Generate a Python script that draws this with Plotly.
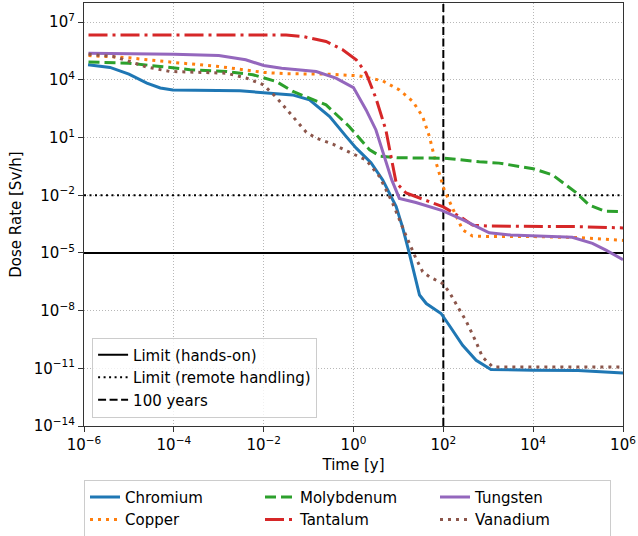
import plotly.graph_objects as go

# ---------------- data (time in years, dose rate in Sv/h) ----------------
chromium_t = [1.23e-6, 3.8e-6, 1e-5, 2.51e-5, 5.0e-5, 9.5e-5, 2.95e-3, 1e-2, 4.37e-2, 0.105, 0.295, 0.69,
              1.15, 2.45, 4.47, 8.9, 12.3, 17.4, 29.5, 41.7, 89, 135, 269, 537, 1150, 1e4, 1e5, 1e6]
chromium_d = [6.17e4, 4.47e4, 2.0e4, 6.8e3, 3.8e3, 2.95e3, 2.7e3, 2.2e3, 1.66e3, 912, 123, 11.2,
              2.82, 0.5, 6.3e-2, 2.57e-3, 2.29e-4, 1e-5, 6.5e-8, 2.34e-8, 7.1e-9, 1.74e-9, 1.58e-10,
              2.63e-11, 8.7e-12, 7.9e-12, 7.6e-12, 5.75e-12]

copper_t = [1.26e-6, 1e-5, 1e-4, 1e-3, 1e-2, 3.16e-2, 0.251, 1.35, 4.47, 10.5, 20.9, 34.7, 49, 63, 81,
            105, 174, 269, 447, 1e3, 1e4, 1e5, 1e6]
copper_d = [1.86e5, 1.41e5, 8.1e4, 5.0e4, 2.45e4, 2.09e4, 2.0e4, 1.62e4, 8.9e3, 3.0e3, 759, 123, 11.2,
            1.02, 0.141, 1.9e-2, 1.41e-3, 1.58e-4, 7.6e-5, 7.2e-5, 7.1e-5, 6.3e-5, 4.5e-5]

molybdenum_t = [1.26e-6, 1e-5, 5.0e-5, 2.29e-4, 1.48e-3, 5.75e-3, 1.9e-2, 4.47e-2, 0.245, 0.81, 2.29,
                3.98, 10, 100, 631, 1740, 1e4, 2.69e4, 8.9e4, 1.74e5, 3.98e5, 1e6]
molybdenum_d = [8.5e4, 7.4e4, 5.0e4, 3.4e4, 2.75e4, 1.86e4, 8.3e3, 2.5e3, 501, 37, 2.29,
                1.07, 0.89, 0.85, 0.56, 0.47, 0.24, 0.115, 1.41e-2, 3.16e-3, 1.48e-3, 1.41e-3]

tantalum_t = [1.26e-6, 3.16e-2, 7.4e-2, 0.245, 0.575, 1.15, 1.91, 3.16, 5.25, 6.3, 7.6, 8.9, 14.8,
              49, 100, 269, 447, 1e3, 1e4, 1e5, 1e6]
tantalum_d = [2.14e6, 2.14e6, 1.82e6, 1e6, 3.7e5, 1.12e5, 2.24e4, 1.12e3, 25, 3.16, 0.316, 4.5e-2,
              1.32e-2, 4.7e-3, 2.5e-3, 6.3e-4, 2.8e-4, 2.5e-4, 2.5e-4, 2.34e-4, 2.0e-4]

tungsten_t = [1.26e-6, 1e-4, 1e-3, 3.98e-3, 1e-2, 2.51e-2, 0.148, 0.407, 1.0, 1.91, 3.16, 4.9, 7.1,
              10.5, 24.5, 95, 269, 631, 1050, 3160, 1e4, 7.4e4, 2.09e5, 4.17e5, 1e6]
tungsten_d = [2.4e5, 2.19e5, 1.86e5, 1.12e5, 5.6e4, 4.07e4, 2.75e4, 1.23e4, 3.98e3, 275, 25, 1.02,
              6.3e-2, 6.9e-3, 4.2e-3, 1.58e-3, 5.4e-4, 2.0e-4, 1.12e-4, 8.5e-5, 7.9e-5, 6.5e-5,
              3.16e-5, 1.41e-5, 4.5e-6]

vanadium_t = [1.26e-6, 4.47e-6, 1.05e-5, 2.45e-5, 8.1e-5, 1.48e-3, 4.17e-3, 9.8e-3, 1.9e-2, 4.47e-2,
              8.9e-2, 0.148, 0.347, 0.98, 1.91, 3.8, 7.4, 14.8, 24.5, 34.7, 49, 95, 135, 209, 316,
              537, 741, 1260, 1e4, 1e6]
vanadium_d = [2.19e5, 1.66e5, 9.1e4, 4.7e4, 2.75e4, 2.24e4, 1.23e4, 5.6e3, 1.26e3, 123, 19, 9.3,
              4.57, 1.41, 0.69, 9.3e-2, 4.0e-3, 7.9e-5, 5.25e-6, 1.05e-6, 5.75e-7, 2.63e-7, 9.5e-8,
              1.58e-8, 3.16e-9, 2.34e-10, 3.9e-11, 1.17e-11, 1.17e-11, 1.17e-11]

hands_on_limit = 1e-5      # Sv/h
remote_limit = 1e-2        # Sv/h
cooling_years = 100        # y

x_range_exp = [-6, 6]
y_range_exp = [-14, 8]
x_tick_exp = [-6, -4, -2, 0, 2, 4, 6]
y_tick_exp = [-14, -11, -8, -5, -2, 1, 4, 7]

# ---------------- figure ----------------
FONT = "DejaVu Sans"
FS = 15


def tick_label(e):
    return "10<sup>" + str(e).replace("-", "\u2212") + "</sup>"


series = [
    ("Chromium", chromium_t, chromium_d, "#1f77b4", "solid", 1),
    ("Copper", copper_t, copper_d, "#ff7f0e", "3px,5px", 4),
    ("Molybdenum", molybdenum_t, molybdenum_d, "#2ca02c", "11px,5px", 2),
    ("Tantalum", tantalum_t, tantalum_d, "#d62728", "19px,5px,3px,5px", 5),
    ("Tungsten", tungsten_t, tungsten_d, "#9467bd", "solid", 3),
    ("Vanadium", vanadium_t, vanadium_d, "#8c564b", "3px,5px", 6),
]

fig = go.Figure()

x_lo, x_hi = 10.0 ** x_range_exp[0], 10.0 ** x_range_exp[1]
y_lo, y_hi = 10.0 ** y_range_exp[0], 10.0 ** y_range_exp[1]

fig.add_trace(go.Scatter(x=[x_lo, x_hi], y=[hands_on_limit, hands_on_limit], mode="lines",
                         line=dict(color="black", width=2), name="Limit (hands-on)",
                         legend="legend2"))
fig.add_trace(go.Scatter(x=[x_lo, x_hi], y=[remote_limit, remote_limit], mode="lines",
                         line=dict(color="black", width=2, dash="2px,3.5px"),
                         name="Limit (remote handling)", legend="legend2"))
fig.add_trace(go.Scatter(x=[cooling_years, cooling_years], y=[y_lo, y_hi], mode="lines",
                         line=dict(color="black", width=2, dash="8px,3.5px"), name="100 years",
                         legend="legend2"))

for name, t, d, color, dash, rank in series:
    fig.add_trace(go.Scatter(x=t, y=d, mode="lines", name=name, legendrank=rank,
                             line=dict(color=color, width=3, dash=dash), legend="legend"))

axis_common = dict(
    type="log", showline=True, linecolor="#333333", linewidth=1.2, mirror=True,
    ticks="outside", ticklen=5, tickwidth=1.2, tickcolor="#333333",
    showgrid=True, gridcolor="#b8b8b8", gridwidth=1, griddash="1px,2px",
    zeroline=False, tickfont=dict(family=FONT, size=FS, color="black"),
)

fig.update_xaxes(**axis_common, range=x_range_exp,
                 tickvals=[10.0 ** e for e in x_tick_exp],
                 ticktext=[tick_label(e) for e in x_tick_exp],
                 title=dict(text="Time [y]", font=dict(family=FONT, size=FS, color="black"),
                            standoff=6))
fig.update_yaxes(**axis_common, range=y_range_exp,
                 tickvals=[10.0 ** e for e in y_tick_exp],
                 ticktext=[tick_label(e) for e in y_tick_exp],
                 title=dict(text="Dose Rate [Sv/h]", font=dict(family=FONT, size=FS, color="black"),
                            standoff=8))

fig.update_layout(
    width=638, height=536,
    margin=dict(l=84, r=15, t=3, b=110, autoexpand=False),
    paper_bgcolor="white", plot_bgcolor="white",
    font=dict(family=FONT, size=FS, color="black"),
    legend=dict(orientation="h", x=0.0, y=-0.127, xanchor="left", yanchor="top",
                entrywidth=130, entrywidthmode="pixels",
                bgcolor="white", bordercolor="#cccccc", borderwidth=1,
                font=dict(family=FONT, size=FS), traceorder="normal"),
    legend2=dict(x=0.015, y=0.02, xanchor="left", yanchor="bottom",
                 bgcolor="rgba(255,255,255,0.8)", bordercolor="#cccccc", borderwidth=1,
                 font=dict(family=FONT, size=FS)),
    showlegend=True,
)

fig.write_html("out.html", config={"displayModeBar": False},
               post_script="document.body.style.margin='0';document.body.style.padding='0';")
